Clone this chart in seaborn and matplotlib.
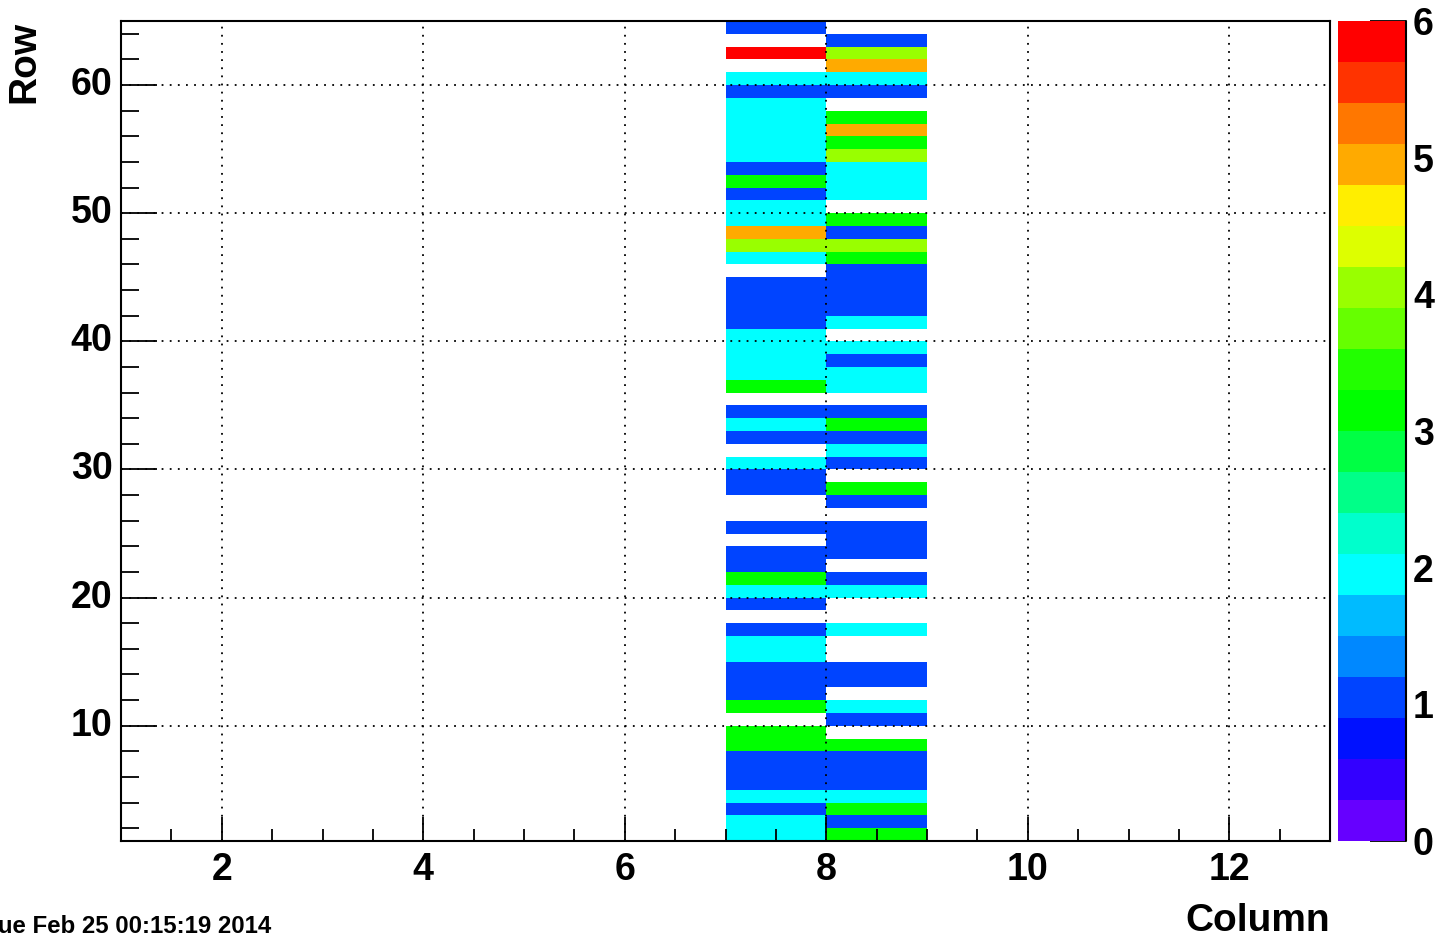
import numpy as np
import pandas as pd
import matplotlib
matplotlib.use("Agg")
import matplotlib.pyplot as plt
from matplotlib.colors import ListedColormap, BoundaryNorm
from matplotlib.ticker import FixedLocator, MultipleLocator
import seaborn as sns

sns.set_theme(style="white")
plt.rcParams["font.family"] = ["Liberation Sans", "DejaVu Sans"]
plt.rcParams["font.weight"] = "bold"
plt.rcParams["text.color"] = "black"
plt.rcParams["axes.labelcolor"] = "black"
plt.rcParams["xtick.color"] = "black"
plt.rcParams["ytick.color"] = "black"

# histogram bins: columns cover x = 1..13, rows cover y = 1..65
columns = list(range(1, 13))
rows = list(range(1, 65))

# bin contents for the two filled columns, row 1 first (0 = empty bin)
col7 = [2, 2, 1, 2, 1, 1, 1, 3, 3, 0,
        3, 1, 1, 1, 2, 2, 1, 0, 1, 2,
        3, 1, 1, 0, 1, 0, 0, 1, 1, 2,
        0, 1, 2, 1, 0, 3, 2, 2, 2, 2,
        1, 1, 1, 1, 0, 2, 4, 5, 2, 2,
        1, 3, 1, 2, 2, 2, 2, 2, 1, 2,
        0, 6, 0, 1]
col8 = [3, 1, 3, 2, 1, 1, 1, 3, 0, 1,
        2, 0, 1, 1, 0, 0, 2, 0, 0, 2,
        1, 0, 1, 1, 1, 0, 1, 3, 0, 1,
        2, 1, 3, 1, 0, 2, 2, 1, 2, 0,
        2, 1, 1, 1, 1, 3, 4, 1, 3, 0,
        2, 2, 2, 4, 3, 5, 3, 0, 1, 2,
        5, 4, 1, 0]

x_tick_values = [2, 4, 6, 8, 10, 12]
y_tick_values = [10, 20, 30, 40, 50, 60]
z_tick_values = [0, 1, 2, 3, 4, 5, 6]

# old ROOT rainbow palette, 20 contour levels from 0 to 6
palette_hex = ["#6600ff", "#3300ff", "#0011ff", "#0044ff", "#0088ff",
               "#00bbff", "#00ffff", "#00ffcc", "#00ff88", "#00ff44",
               "#00ff00", "#22ff00", "#66ff00", "#99ff00", "#ddff00",
               "#ffee00", "#ffaa00", "#ff7700", "#ff3300", "#ff0000"]
levels = np.round(np.linspace(0, 6, 21), 6)
cmap = ListedColormap(palette_hex)
norm = BoundaryNorm(levels, cmap.N)

grid = pd.DataFrame(np.nan, index=rows, columns=columns)
grid[7] = col7
grid[8] = col8
grid = grid.where(grid > 0)

fig = plt.figure(figsize=(14.36, 9.40), dpi=100)
ax = fig.add_axes([121 / 1436, 99 / 940, 1209 / 1436, 820 / 940])
cax = fig.add_axes([1338 / 1436, 99 / 940, 68 / 1436, 820 / 940])

sns.heatmap(grid, ax=ax, cbar_ax=cax, cmap=cmap, norm=norm,
            cbar_kws={"ticks": z_tick_values})
ax.invert_yaxis()  # row 1 at the bottom
ax.set_xlim(0, len(columns))
ax.set_ylim(0, len(rows))

# bin position = value - 1 (axes start at 1)
ax.xaxis.set_major_locator(FixedLocator([v - 1 for v in x_tick_values]))
ax.xaxis.set_minor_locator(MultipleLocator(0.5))
ax.set_xticklabels([str(v) for v in x_tick_values], rotation=0)
ax.yaxis.set_major_locator(FixedLocator([v - 1 for v in y_tick_values]))
ax.yaxis.set_minor_locator(FixedLocator(np.arange(1, 64, 2)))
ax.set_yticklabels([str(v) for v in y_tick_values], rotation=0)

ax.tick_params(axis="x", which="major", direction="in", length=17, width=1.3,
               bottom=True, top=False, labelsize=27, pad=8, color="black")
ax.tick_params(axis="x", which="minor", direction="in", length=8.5, width=1.3,
               bottom=True, top=False, color="black")
ax.tick_params(axis="y", which="major", direction="in", length=26, width=1.3,
               left=True, right=False, labelsize=27, pad=6, color="black")
ax.tick_params(axis="y", which="minor", direction="in", length=13, width=1.3,
               left=True, right=False, color="black")

for spine in ax.spines.values():
    spine.set_visible(True)
    spine.set_color("black")
    spine.set_linewidth(1.5)

ax.grid(True, which="major", color="black", linestyle=(0, (1, 3.5)), linewidth=1.3)
ax.set_axisbelow(False)

ax.set_xlabel("Column", fontsize=28, fontweight="bold", loc="right")
ax.xaxis.set_label_coords(1.0, -0.076)
ax.set_ylabel("Row", fontsize=28, fontweight="bold", loc="top")
ax.yaxis.set_label_coords(-0.065, 1.0)

cbar = ax.collections[0].colorbar
cbar.outline.set_visible(False)
cax.tick_params(axis="y", which="major", direction="in", length=26, width=1.3,
                right=True, labelsize=27, pad=5, color="black")
cax.tick_params(axis="y", which="minor", length=0)
cax.plot([1, 1], [0, 1], transform=cax.transAxes, color="black", lw=1.5, clip_on=False)

fig.text(-15 / 1436, 7 / 940, "Tue Feb 25 00:15:19 2014", fontsize=17.3,
         fontweight="bold", ha="left", va="baseline")

fig.savefig("out.png", dpi=100)
